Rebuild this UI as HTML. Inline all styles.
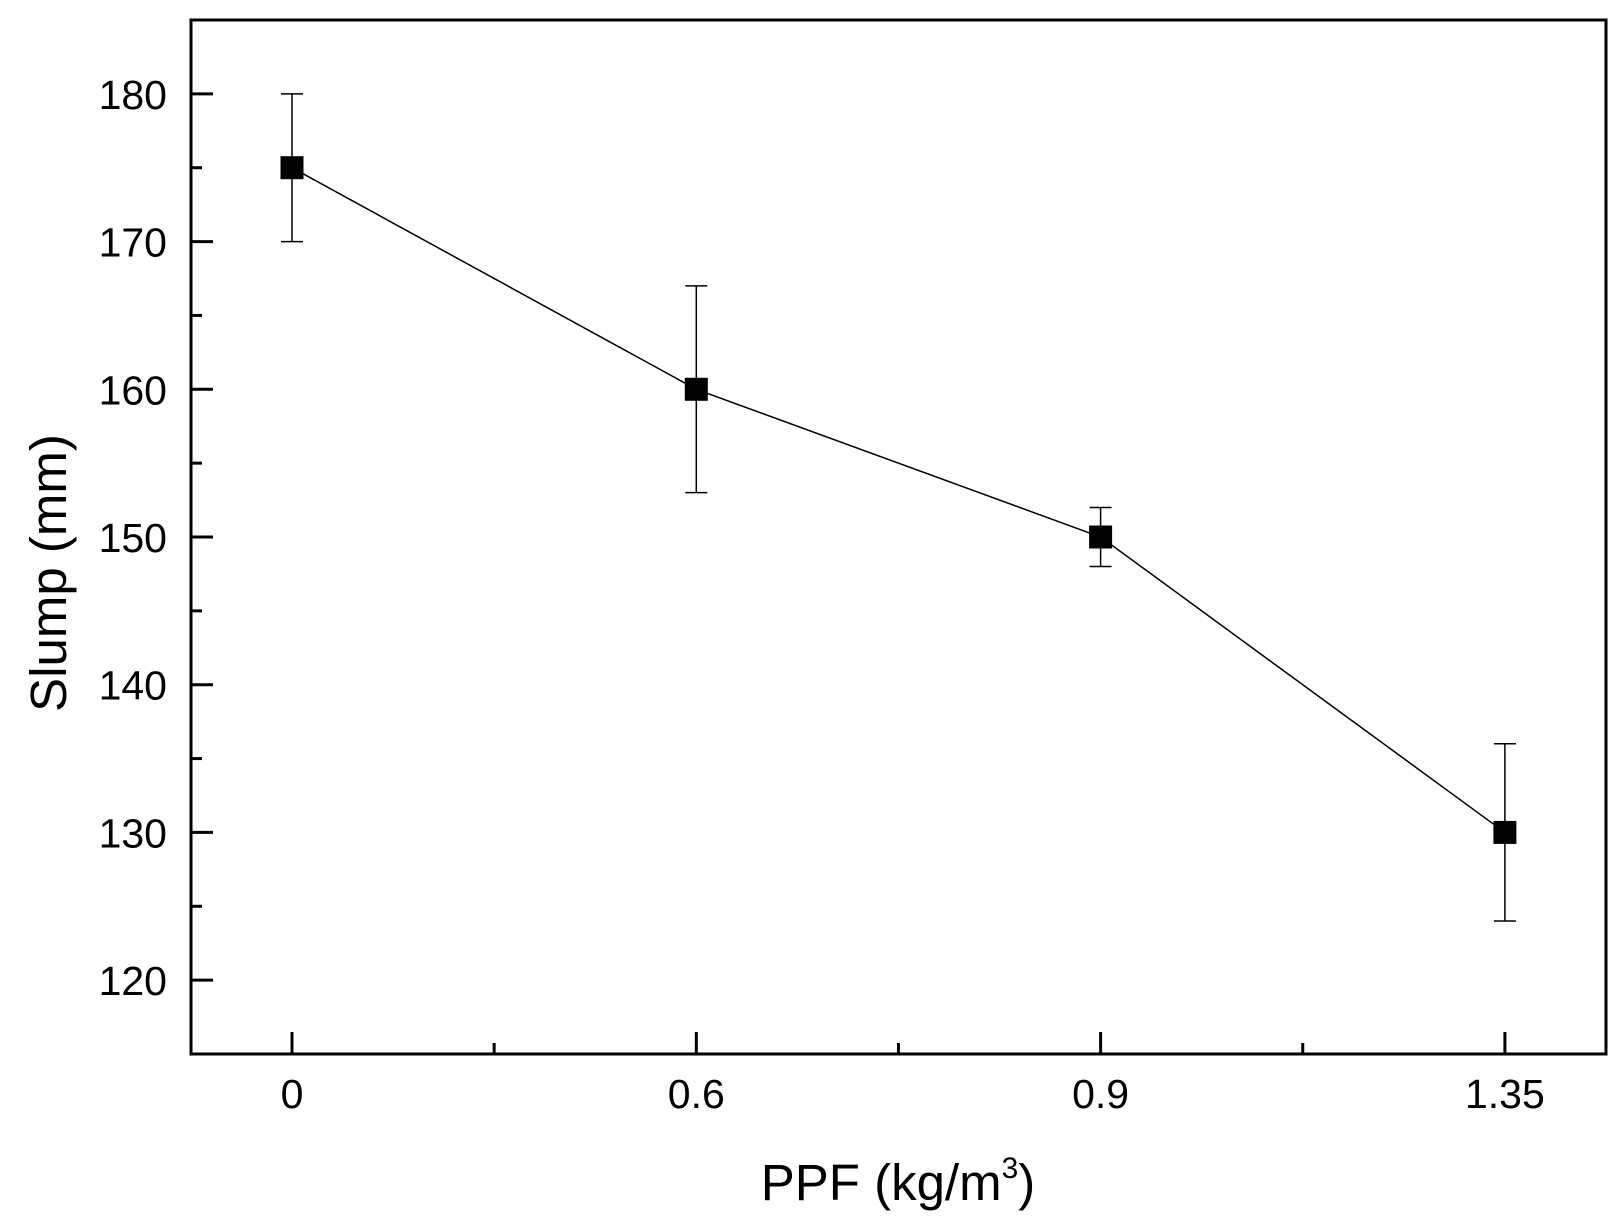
<!DOCTYPE html>
<html><head><meta charset="utf-8"><style>
html,body{margin:0;padding:0;background:#fff}
svg{display:block;font-family:"Liberation Sans",Arial,sans-serif}
</style></head><body>
<svg id="chart" width="1624" height="1223" viewBox="0 0 1624 1223">
<g id="layer"></g>
</svg>
<script>
const categories = ["0","0.6","0.9","1.35"];
const slumpValues = [175,160,150,130];
const errUpper = [5,7,2,6];
const errLower = [5,7,2,6];
const yTicks = [120,130,140,150,160,170,180];

const NS="http://www.w3.org/2000/svg";
const L=191,R=1606,T=20,B=1054;
const yMin=115,yMax=185;
function y(v){return B-(v-yMin)/(yMax-yMin)*(B-T);}
function x(i){return 292+i*404.3;}
const g=document.getElementById('layer');
function el(tag,attrs,parent){const e=document.createElementNS(NS,tag);for(const k in attrs)e.setAttribute(k,attrs[k]);(parent||g).appendChild(e);return e;}

const frame=el('rect',{x:L,y:T,width:R-L,height:B-T,fill:'none',stroke:'#000','stroke-width':3});



yTicks.forEach((v,i)=>{
  const t=el('line',{x1:L,x2:L+22,y1:y(v),y2:y(v),stroke:'#000','stroke-width':3});
  
  
  const m=el('line',{x1:L,x2:L+11,y1:y(v+5),y2:y(v+5),stroke:'#000','stroke-width':3});
  
  
  const tx=el('text',{x:167,y:y(v)+15,'font-size':41,'text-anchor':'end',fill:'#000',transform:'',});
  tx.textContent=v;
  
  
});
categories.forEach((c,i)=>{
  const t=el('line',{x1:x(i),x2:x(i),y1:B,y2:B-22,stroke:'#000','stroke-width':3});
  
  
  if(i<categories.length-1){
    const m=el('line',{x1:x(i+0.5),x2:x(i+0.5),y1:B,y2:B-11,stroke:'#000','stroke-width':3});
    
    
  }
  const tx=el('text',{x:x(i),y:1108,'font-size':41,'text-anchor':'middle',fill:'#000'});
  tx.textContent=c;
  
  
});
const pts=slumpValues.map((v,i)=>x(i)+','+y(v)).join(' ');
const line=el('polyline',{points:pts,fill:'none',stroke:'#000','stroke-width':1.5});


slumpValues.forEach((v,i)=>{
  const eb=el('g',{});
  
  
  const top=y(v+errUpper[i]),bot=y(v-errLower[i]);
  el('line',{x1:x(i),x2:x(i),y1:top,y2:bot,stroke:'#000','stroke-width':1.5},eb);
  el('line',{x1:x(i)-11,x2:x(i)+11,y1:top,y2:top,stroke:'#000','stroke-width':1.5},eb);
  el('line',{x1:x(i)-11,x2:x(i)+11,y1:bot,y2:bot,stroke:'#000','stroke-width':1.5},eb);
  const m=el('rect',{x:x(i)-11.5,y:y(v)-11.5,width:23,height:23,fill:'#000'});
  
  
});
const yt=el('text',{x:0,y:0,'font-size':51,'text-anchor':'middle',fill:'#000',transform:'translate(66,573) rotate(-90)'});
yt.textContent='Slump (mm)';


const xt=el('text',{x:898,y:1200,'font-size':51,'text-anchor':'middle',fill:'#000'});
xt.innerHTML='PPF (kg/m<tspan dy="-22" font-size="30">3</tspan><tspan dy="22">)</tspan>';


</script>
</body></html>
